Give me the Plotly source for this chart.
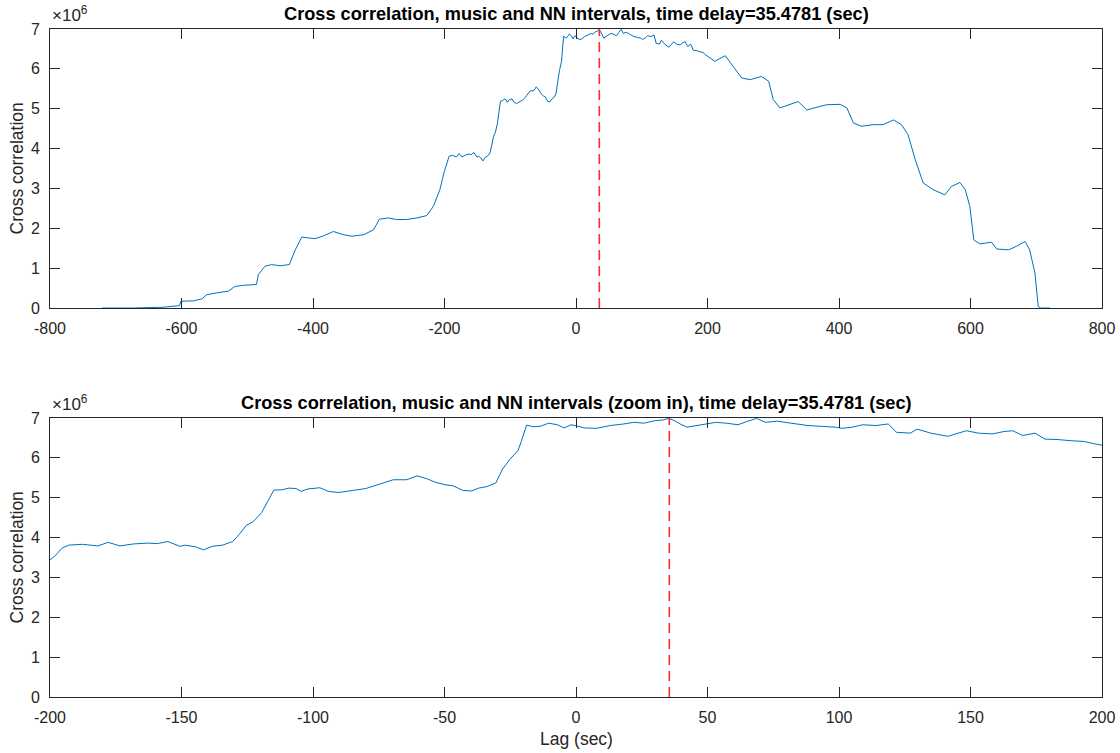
import numpy as np
import plotly.graph_objects as go
from plotly.subplots import make_subplots

# Cross-correlation between music and NN intervals (values in units of 1e6)
lag_sec = [
    -721, -673, -628, -603, -601, -582, -569, -562, -547, -529, -519, -506,
    -486, -483, -473, -463, -450, -436, -427, -424, -417, -407, -397, -384,
    -369, -354, -341, -323, -308, -299, -285, -273, -258, -242, -227, -217,
    -207,
    -200.4, -198.1, -195.5, -192.9, -187.7, -181.8, -177.9, -173.4, -168.2,
    -163.0, -159.1, -155.2, -150.6, -148.7, -144.8, -141.6, -138.3, -134.4,
    -130.5, -127.9, -125.3, -122.7, -119.5, -117.5, -114.9, -111.7, -109.1,
    -106.5, -104.5, -101.9, -97.4, -94.2, -90.3, -85.1, -79.9, -74.7, -69.5,
    -64.3, -60.4, -56.5, -53.2, -49.4, -46.8, -42.9, -39.6, -37.0, -33.8,
    -30.5, -27.9, -25.3, -22.1, -20.8, -18.8, -16.2, -13.6, -10.4, -7.1,
    -4.5, -1.9, 0.5, 3.2, 7.8, 13.0, 18.2, 22.0, 25.9, 29.8, 33.1, 35.3,
    37.6, 39.6, 42.2, 45.4, 49.3, 53.2, 57.1, 61.6, 64.9, 68.7, 72.0, 76.5,
    81.7, 88.2, 93.4, 98.6, 101.2, 105.1, 109.0, 114.1, 118.7, 121.9, 127.1,
    129.7, 134.9, 141.4, 145.3, 148.5, 153.0, 158.2, 162.8, 166.0, 169.9,
    174.5, 178.3, 182.9, 188.1, 193.3, 197.2, 200.4,
    211, 227, 239, 252, 265, 282, 293, 300, 310, 323, 338, 351, 366, 381,
    402, 412, 422, 434, 452, 467, 483, 495, 505, 516, 528, 543, 561, 571,
    584, 592, 599, 605, 614, 632, 640, 658, 670, 683, 690, 698, 703, 706,
    721,
]
xcorr_millions = [
    0.00, 0.00, 0.02, 0.06, 0.17, 0.18, 0.23, 0.33, 0.38, 0.42, 0.54, 0.57,
    0.59, 0.84, 1.05, 1.09, 1.06, 1.09, 1.46, 1.55, 1.78, 1.76, 1.74, 1.81,
    1.92, 1.84, 1.80, 1.84, 1.96, 2.23, 2.26, 2.22, 2.22, 2.26, 2.32, 2.55,
    2.97,
    3.42, 3.54, 3.73, 3.81, 3.83, 3.79, 3.88, 3.79, 3.84,
    3.86, 3.85, 3.90, 3.78, 3.81, 3.77, 3.69, 3.78, 3.81,
    3.90, 4.09, 4.31, 4.40, 4.63, 4.88, 5.19, 5.20, 5.24,
    5.23, 5.16, 5.22, 5.25, 5.16, 5.13, 5.18, 5.23, 5.34, 5.45,
    5.45, 5.55, 5.47, 5.38, 5.32, 5.30, 5.18, 5.17, 5.24, 5.28,
    5.37, 5.72, 5.95, 6.18, 6.41, 6.82, 6.78, 6.79, 6.87, 6.83,
    6.75, 6.83, 6.80, 6.75, 6.74, 6.81, 6.85, 6.89, 6.87, 6.93, 6.95, 6.99,
    6.93, 6.85, 6.77, 6.81, 6.85, 6.89, 6.87, 6.83, 6.91, 6.99, 6.89, 6.92,
    6.87, 6.81, 6.79, 6.77, 6.74, 6.77, 6.83, 6.81, 6.85, 6.64, 6.62,
    6.72, 6.62, 6.54, 6.62, 6.68, 6.62, 6.60, 6.66, 6.68, 6.56,
    6.62, 6.47, 6.46, 6.43, 6.41, 6.35, 6.31,
    6.19, 6.33, 6.06, 5.77, 5.73, 5.81, 5.69, 5.23, 5.02, 5.10, 5.18, 4.97,
    5.04, 5.10, 5.11, 5.02, 4.64, 4.56, 4.60, 4.60, 4.72, 4.60, 4.35, 3.72,
    3.14, 2.97, 2.84, 3.05, 3.15, 2.97, 2.55, 1.71, 1.61, 1.65, 1.48, 1.46,
    1.55, 1.67, 1.46, 0.88, 0.04, 0.00, 0.00,
]
time_delay = 35.4781

top_xticks = [-800, -600, -400, -200, 0, 200, 400, 600, 800]
bottom_xticks = [-200, -150, -100, -50, 0, 50, 100, 150, 200]
y_ticks = [0, 1, 2, 3, 4, 5, 6, 7]

lag = np.array(lag_sec, dtype=float)
xcorr = np.array(xcorr_millions) * 1e6

FONT = "Liberation Sans, Arial, Helvetica, sans-serif"
AX_COLOR = "#262626"
LINE_BLUE = "#0072BD"

fig = make_subplots(rows=2, cols=1, vertical_spacing=0.1646)

for row in (1, 2):
    fig.add_trace(
        go.Scatter(x=lag, y=xcorr, mode="lines",
                   line=dict(color=LINE_BLUE, width=1),
                   showlegend=False, hoverinfo="x+y"),
        row=row, col=1,
    )

# domains in paper fractions
fig.update_layout(
    yaxis=dict(domain=[0.5823, 1.0]),
    yaxis2=dict(domain=[0.0, 0.4177]),
)

common_axis = dict(
    showline=True, linecolor=AX_COLOR, linewidth=1, mirror="ticks",
    ticks="inside", ticklen=10, tickwidth=1, tickcolor=AX_COLOR,
    showgrid=False, zeroline=False, automargin=False,
    tickfont=dict(family=FONT, size=16, color=AX_COLOR),
)

fig.update_xaxes(range=[-800, 800], tickvals=top_xticks,
                 ticktext=[str(v) for v in top_xticks],
                 ticklabelstandoff=6, row=1, col=1, **common_axis)
fig.update_xaxes(range=[-200, 200], tickvals=bottom_xticks,
                 ticktext=[str(v) for v in bottom_xticks],
                 ticklabelstandoff=6, row=2, col=1, **common_axis)
for row in (1, 2):
    fig.update_yaxes(range=[0, 7e6], tickvals=[v * 1e6 for v in y_ticks],
                     ticktext=[str(v) for v in y_ticks],
                     ticklabelstandoff=6, row=row, col=1, **common_axis)

# vertical dashed line at the estimated time delay
for xref, yref in (("x", "y domain"), ("x2", "y2 domain")):
    fig.add_shape(type="line", x0=time_delay, x1=time_delay, y0=0, y1=1,
                  xref=xref, yref=yref,
                  line=dict(color="#ff2a2a", width=1.6, dash="10px,6px"))

annotations = [
    # titles
    dict(text="<b>Cross correlation, music and NN intervals, time delay=35.4781 (sec)</b>",
         x=0.5, y=1.0232, xref="paper", yref="paper", xanchor="center",
         yanchor="middle", showarrow=False,
         font=dict(family=FONT, size=18.2, color="#000000")),
    dict(text="<b>Cross correlation, music and NN intervals (zoom in), time delay=35.4781 (sec)</b>",
         x=0.5, y=0.4401, xref="paper", yref="paper", xanchor="center",
         yanchor="middle", showarrow=False,
         font=dict(family=FONT, size=18.2, color="#000000")),
    # y-axis labels
    dict(text="Cross correlation", textangle=-90, x=-0.0314, y=0.7911,
         xref="paper", yref="paper", xanchor="center", yanchor="middle",
         showarrow=False, font=dict(family=FONT, size=17.5, color=AX_COLOR)),
    dict(text="Cross correlation", textangle=-90, x=-0.0314, y=0.2089,
         xref="paper", yref="paper", xanchor="center", yanchor="middle",
         showarrow=False, font=dict(family=FONT, size=17.5, color=AX_COLOR)),
    # x-axis label
    dict(text="Lag (sec)", x=0.5, y=-0.063, xref="paper", yref="paper",
         xanchor="center", yanchor="middle", showarrow=False,
         font=dict(family=FONT, size=17.5, color=AX_COLOR)),
    # exponent labels
    dict(text="\u00d710<sup>6</sup>", x=0.0, y=1.003, xref="paper", yref="paper",
         xanchor="left", yanchor="bottom", showarrow=False,
         font=dict(family=FONT, size=17, color=AX_COLOR)),
    dict(text="\u00d710<sup>6</sup>", x=0.0, y=0.4207, xref="paper", yref="paper",
         xanchor="left", yanchor="bottom", showarrow=False,
         font=dict(family=FONT, size=17, color=AX_COLOR)),
]

fig.update_layout(
    width=1120, height=753,
    margin=dict(l=50, r=18, t=29, b=56),
    paper_bgcolor="white", plot_bgcolor="white",
    annotations=annotations,
    showlegend=False,
)

fig.write_html("out.html")
